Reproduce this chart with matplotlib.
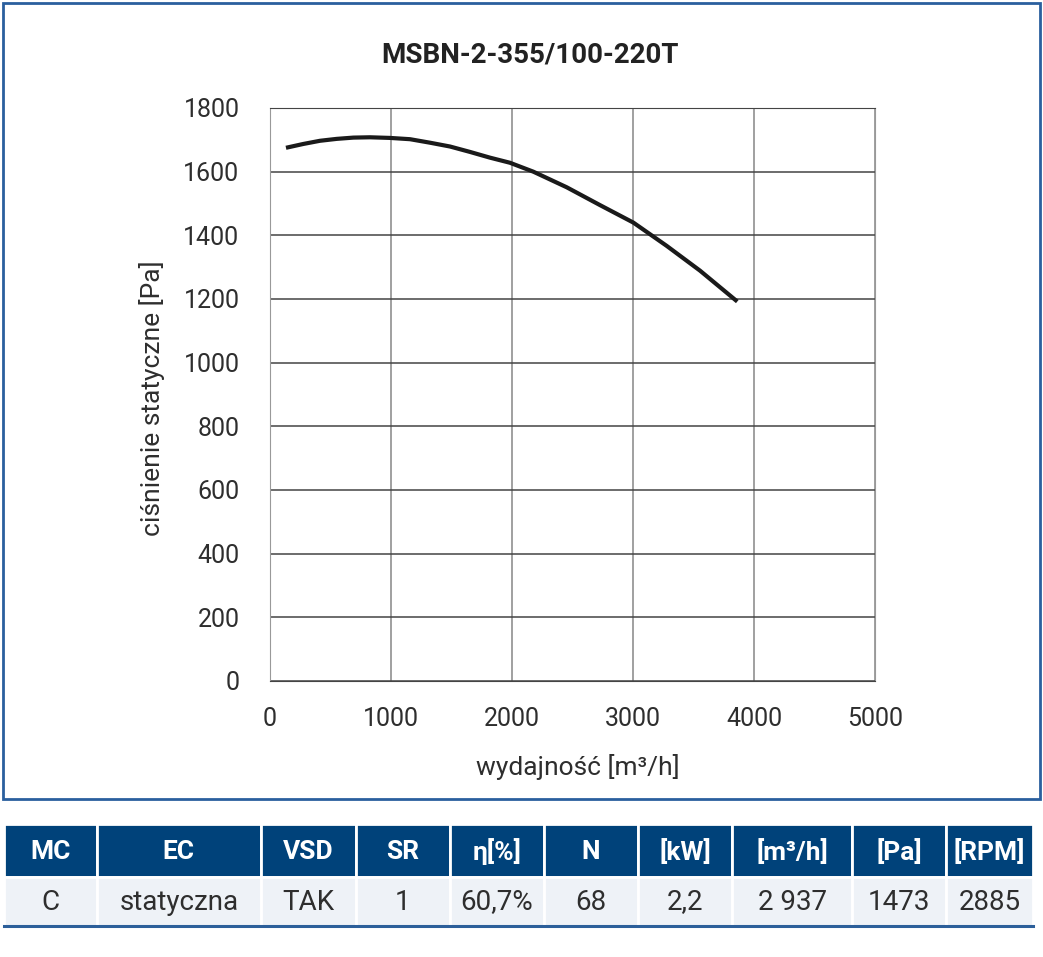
import numpy as np
import matplotlib
matplotlib.use("Agg")
import matplotlib.pyplot as plt
from matplotlib.patches import Rectangle

plt.rcParams['font.family'] = ['Roboto', 'DejaVu Sans']

# curve
flow = [132, 275, 413, 551, 689, 826, 992, 1157, 1322, 1488, 1653, 1818,
        1983, 2176, 2452, 2727, 3003, 3278, 3554, 3862]
pressure = [1675, 1687, 1697, 1703, 1707, 1708, 1706, 1702, 1691, 1679, 1662, 1644,
            1628, 1600, 1551, 1495, 1440, 1367, 1289, 1192]

title = "MSBN-2-355/100-220T"
xticks = [0, 1000, 2000, 3000, 4000, 5000]
yticks = [0, 200, 400, 600, 800, 1000, 1200, 1400, 1600, 1800]

headers = ["MC", "EC", "VSD", "SR", "η[%]", "N", "[kW]", "[m³/h]", "[Pa]", "[RPM]"]
values = ["C", "statyczna", "TAK", "1", "60,7%", "68", "2,2", "2 937", "1473", "2885"]
col_edges = [4, 96.7, 261, 355.7, 450, 544, 638.3, 732.3, 852.3, 946, 1033]

W, H = 1043, 957
blue = "#00427a"
txt = "#2e2e2e"
fig = plt.figure(figsize=(W / 100, H / 100), dpi=100)

ax = fig.add_axes([270 / W, (H - 681) / H, 605 / W, 573 / H])
ax.set_xlim(0, 5000)
ax.set_ylim(0, 1800)
ax.set_xticks(xticks)
ax.set_yticks(yticks)
ax.tick_params(length=0, labelsize=18, labelcolor=txt)
ax.tick_params(axis="y", pad=22)
ax.tick_params(axis="x", pad=19)
ax.xaxis.grid(True, color="#999999", lw=1.3)
ax.yaxis.grid(True, color="#444444", lw=1.1)
for s in ["top", "bottom"]:
    ax.spines[s].set_color("#444444")
for s in ["left", "right"]:
    ax.spines[s].set_color("#999999")
ax.plot(flow, pressure, color="#1a1a1a", lw=3, solid_capstyle="butt",
        solid_joinstyle="round", zorder=3)

fig.text(530 / W, 1 - 55 / H, title, ha="center", va="center",
         fontsize=20, fontweight="bold", color="#222222")
fig.text(152 / W, 1 - 398 / H, "ciśnienie statyczne [Pa]", rotation=90,
         ha="center", va="center", fontsize=19, color=txt)
fig.text(578 / W, 1 - 767 / H, "wydajność [m³/h]", ha="center", va="center",
         fontsize=19, color=txt)

# overlay in pixel coordinates for frame and table
ov = fig.add_axes([0, 0, 1, 1])
ov.set_xlim(0, W)
ov.set_ylim(H, 0)
ov.axis("off")
ov.add_patch(Rectangle((3, 3), 1037, 796, fill=False, ec="#2a5f9e", lw=2))

for i in range(len(headers)):
    x0, x1 = col_edges[i], col_edges[i + 1]
    ov.add_patch(Rectangle((x0, 824), x1 - x0, 53, fc=blue, ec="white", lw=2))
    ov.add_patch(Rectangle((x0, 877), x1 - x0, 49, fc="#eef2f7", ec="white", lw=2))
    xc = (x0 + x1) / 2
    ov.text(xc, 852, headers[i], ha="center", va="center", color="white",
            fontsize=19, fontweight="bold")
    ov.text(xc, 902, values[i], ha="center", va="center", color=txt,
            fontsize=20)
ov.plot([col_edges[0], col_edges[-1]], [926, 926], color="#2c5f9a", lw=2.2)

fig.savefig("out.png", dpi=100)
